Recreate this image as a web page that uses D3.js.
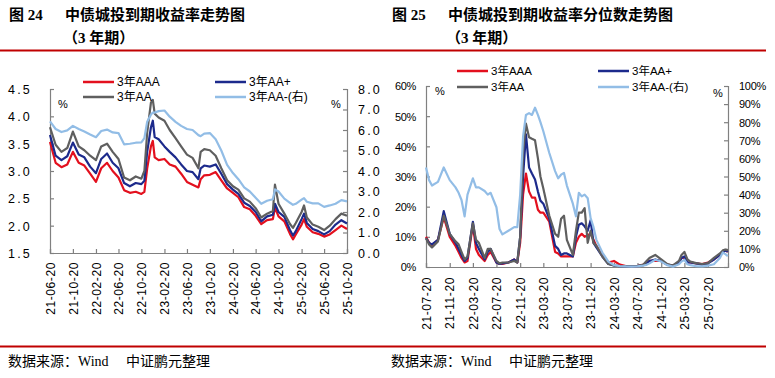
<!DOCTYPE html>
<html><head><meta charset="utf-8">
<script src="https://cdn.jsdelivr.net/npm/d3@7"></script>
<style>body{margin:0;background:#fff;} svg{display:block;}</style>
</head><body>
<svg id="c" width="775" height="378"></svg>
<script>
// ---------- Chart 24 data (yield, %) ----------
const datesL = ["2021-06-20","2021-07-20","2021-08-20","2021-09-20","2021-10-20","2021-11-20","2021-12-20","2022-01-20","2022-02-20","2022-03-20","2022-04-20","2022-05-20","2022-06-20","2022-07-20","2022-08-20","2022-09-20","2022-10-20","2022-11-05","2022-11-20","2022-12-10","2022-12-20","2022-12-30","2023-01-20","2023-02-20","2023-03-20","2023-04-20","2023-05-20","2023-06-20","2023-07-20","2023-08-20","2023-09-01","2023-09-20","2023-10-20","2023-11-20","2023-12-20","2024-01-20","2024-02-20","2024-03-20","2024-04-20","2024-05-20","2024-06-20","2024-07-20","2024-08-20","2024-09-20","2024-10-01","2024-10-20","2024-11-20","2024-12-20","2025-01-05","2025-01-20","2025-02-20","2025-03-05","2025-03-20","2025-04-20","2025-05-20","2025-06-20","2025-07-20","2025-08-20","2025-09-20","2025-10-20"];
const aaaL = [3.53,3.15,3.07,3.12,3.35,3.15,3.10,2.95,2.80,3.05,3.15,3.00,2.88,2.65,2.60,2.62,2.58,2.62,3.05,3.45,3.55,3.25,3.20,3.22,3.12,3.08,2.95,2.80,2.75,2.70,2.85,2.92,2.93,2.98,2.83,2.68,2.60,2.52,2.34,2.30,2.18,2.03,2.10,2.12,2.33,2.17,2.08,1.85,1.75,1.84,2.02,2.12,1.98,1.88,1.85,1.80,1.84,1.92,2.00,1.94];
const aapL = [3.66,3.28,3.20,3.27,3.52,3.30,3.25,3.08,2.96,3.22,3.32,3.15,3.05,2.78,2.72,2.78,2.76,2.82,3.35,3.80,3.92,3.62,3.58,3.45,3.35,3.25,3.12,3.00,2.98,2.85,3.05,3.10,3.08,3.12,2.95,2.76,2.66,2.58,2.42,2.36,2.25,2.08,2.17,2.20,2.40,2.25,2.16,1.92,1.82,1.90,2.12,2.22,2.05,1.94,1.90,1.84,1.90,2.02,2.10,2.04];
const aaL  = [3.80,3.48,3.35,3.42,3.72,3.45,3.38,3.28,3.20,3.45,3.50,3.35,3.22,2.88,2.83,2.90,2.86,3.00,3.70,4.25,4.30,4.05,3.98,3.92,3.75,3.60,3.45,3.30,3.24,3.05,3.35,3.40,3.38,3.28,3.05,2.83,2.72,2.66,2.50,2.44,2.32,2.15,2.22,2.27,2.75,2.40,2.22,2.03,1.96,2.05,2.25,2.37,2.15,2.02,1.98,1.92,2.00,2.12,2.22,2.18];
const aamL = [6.42,6.05,5.90,5.98,6.20,6.05,5.93,5.78,5.65,5.95,6.02,5.88,5.85,5.30,5.33,5.38,5.40,5.60,6.40,6.75,6.85,6.85,6.92,6.95,6.65,6.40,6.20,6.05,6.00,5.75,5.70,5.82,5.85,5.55,5.00,4.30,3.90,3.60,3.20,3.00,2.70,2.40,2.55,2.62,3.10,3.00,2.65,2.45,2.35,2.40,2.60,2.68,2.50,2.42,2.42,2.25,2.32,2.40,2.58,2.52];
const leftTicksL = ["4.5","4.0","3.5","3.0","2.5","2.0","1.5"];
const rightTicksL = ["8.0","7.0","6.0","5.0","4.0","3.0","2.0","1.0","0.0"];
const xTicksL = ["21-06-20","21-10-20","22-02-20","22-06-20","22-10-20","23-02-20","23-06-20","23-10-20","24-02-20","24-06-20","24-10-20","25-02-20","25-06-20","25-10-20"];

// ---------- Chart 25 data (percentile, %) ----------
const datesR = ["2021-07-20","2021-08-05","2021-08-20","2021-09-20","2021-10-20","2021-11-20","2021-12-20","2022-01-05","2022-01-20","2022-02-05","2022-02-20","2022-03-20","2022-04-05","2022-04-20","2022-05-20","2022-06-05","2022-06-20","2022-07-20","2022-08-05","2022-08-20","2022-09-20","2022-10-20","2022-11-05","2022-11-20","2022-12-05","2022-12-20","2023-01-05","2023-01-20","2023-02-05","2023-02-20","2023-03-05","2023-03-20","2023-04-20","2023-05-20","2023-06-05","2023-06-20","2023-07-05","2023-07-20","2023-08-20","2023-09-05","2023-09-20","2023-10-05","2023-10-20","2023-11-05","2023-11-20","2023-12-05","2023-12-20","2024-01-20","2024-02-20","2024-03-20","2024-04-20","2024-05-20","2024-06-20","2024-07-20","2024-08-20","2024-09-05","2024-09-20","2024-10-20","2024-11-20","2024-12-20","2025-01-20","2025-02-20","2025-03-05","2025-03-20","2025-04-05","2025-04-20","2025-05-20","2025-06-20","2025-07-20","2025-08-20","2025-09-20","2025-10-05","2025-10-20","2025-10-31"];
const aaaR = [10,8,7,9,16.5,10,7,5,3,1.5,2,14,6,4,2,4,5,1.5,1,1,1.5,2.5,1.5,8,24,31,25,23,23,19,18,18,15,5,4.5,3.5,3.5,3.5,3.5,8,10,11,10,10.5,11,9,7,4,1.5,2,0.8,0.3,0.2,0.3,0.8,1.5,2,2,2,0.8,0.5,1.5,3,3,1.5,1.5,1.2,1,1.5,2.5,4,5,5.5,5];
const aapR = [9.6,8,7.5,9,18.5,11,8,6,4,2,3,15,8,6,2.5,5,6,1.5,1,1.2,1.5,2.5,1.5,10,30,44,33,31,29,25,22,21,16,7,6,4,4.5,4.5,3.5,10,14,14.5,13.5,12,15.5,8,6.5,3.5,1,0.5,0.3,0.2,0.2,0.3,0.6,1.2,2,2.5,2,0.8,0.5,1.5,3,3.5,1.5,1.5,1.2,0.8,1.2,2.5,4,5,5.5,5];
const aaR  = [9.5,7.5,6.5,8.5,17,11,8.5,7.5,5,2.5,3.5,14.5,9,8,3,6,6,2,1.2,1.5,1.5,2,1.5,10,38,47.5,43,42.5,42,36,30,26,17,11,10,16,17,9,4,12,18,18,19.5,8,12,8,7,3.5,1,0.5,0.3,0.2,0.2,0.3,0.8,2,3,4,2.5,1,0.5,2,4,5,2.5,1.8,1.3,1,1.3,3,4.5,5.5,5.8,5.5];
const aamR = [55,48,45,47,55,48,44,41,37,28,40,49,44,44,42,40,41,33,21,18,20,22,22,40,72,84,85,84,88,84,80,75,63,53,49,51,52,45,35,28,41,39,40,38,27,22,15,8,3,1,0.5,0.3,0.2,0.3,0.8,1.2,2,4,3,1,0.2,1.5,3,4,1.5,1,0.5,0.3,0.8,1.5,5,8,7,6];
const leftTicksR = ["60%","50%","40%","30%","20%","10%","0%"];
const rightTicksR = ["100%","90%","80%","70%","60%","50%","40%","30%","20%","10%","0%"];
const xTicksR = ["21-07-20","21-11-20","22-03-20","22-07-20","22-11-20","23-03-20","23-07-20","23-11-20","24-03-20","24-07-20","24-11-20","25-03-20","25-07-20"];

const seriesNames = ["3年AAA","3年AA+","3年AA","3年AA-(右)"];
const colors = ["#e3101e","#1c2a8c","#5f5f5f","#92bde6"];

const svg = d3.select("#c");
const parse = d3.timeParse("%Y-%m-%d");
const parseTick = d3.timeParse("%y-%m-%d");
const SERIF_CJK = "'Liberation Serif','Noto Sans CJK SC',serif";
const SANS_CJK = "'Noto Sans CJK SC','Liberation Sans',sans-serif";
const LEG_FONT = "'Liberation Sans','Noto Sans CJK SC',sans-serif";
const AX = "#808080";

function drawPanel(o) {
  const g = svg.append("g").attr("transform", `translate(${o.dx},0)`);
  g.append("text").attr("x", 9).attr("y", 20).attr("font-family", SERIF_CJK).attr("font-weight", "bold").attr("font-size", 15).attr("fill", "#000").text(o.num);
  g.append("text").attr("x", 65).attr("y", 20).attr("font-family", SANS_CJK).attr("font-weight", "bold").attr("font-size", 15).attr("fill", "#000").text(o.title);
  g.append("text").attr("x", 63).attr("y", 43).attr("font-family", SERIF_CJK).attr("font-weight", "bold").attr("font-size", 15).attr("fill", "#000").text("（3 年期）");
  g.append("text").attr("x", 8).attr("y", 366).attr("font-family", SANS_CJK).attr("font-size", 14).text("数据来源：");
  g.append("text").attr("x", 78).attr("y", 366).attr("font-family", "'Liberation Serif',serif").attr("font-size", 14).text("Wind");
  g.append("text").attr("x", 126).attr("y", 366).attr("font-family", SANS_CJK).attr("font-size", 14).text("中证鹏元整理");
}

svg.append("line").attr("x1", 0).attr("x2", 766).attr("y1", 50.5).attr("y2", 50.5).attr("stroke", "#c00000").attr("stroke-width", 2);
svg.append("line").attr("x1", 0).attr("x2", 766).attr("y1", 346.5).attr("y2", 346.5).attr("stroke", "#c00000").attr("stroke-width", 2);

drawPanel({dx: 0, num: "图 24", title: "中债城投到期收益率走势图"});
drawPanel({dx: 383, num: "图 25", title: "中债城投到期收益率分位数走势图"});

function drawChart(c) {
  const g = svg.append("g");
  const x = d3.scaleTime().domain(c.xDomain.map(parse)).range([c.x0, c.x1]);
  const yL = d3.scaleLinear().domain(c.yLDomain).range([c.y1, c.y0]);
  const yR = d3.scaleLinear().domain(c.yRDomain).range([c.y1, c.y0]);
  const dates = c.dates.map(parse);

  const axisLeft = d3.axisLeft(yL).tickValues(c.leftTicks.map(Number.parseFloat)).tickSize(-4).tickFormat((d, i) => c.leftTicks[i]);
  const axisRight = d3.axisRight(yR).tickValues(c.rightTicks.map(Number.parseFloat)).tickSize(-4).tickFormat((d, i) => c.rightTicks[i]);
  const axisBottom = d3.axisBottom(x).tickValues(c.xTicks.map(parseTick)).tickSize(-4).tickFormat((d, i) => c.xTicks[i]);

  const gl = g.append("g").attr("transform", `translate(${c.x0},0)`).call(axisLeft);
  const gr = g.append("g").attr("transform", `translate(${c.x1},0)`).call(axisRight);
  const gb = g.append("g").attr("transform", `translate(0,${c.y1})`).call(axisBottom);
  [gl, gr, gb].forEach(a => {
    a.select(".domain").attr("stroke", AX).attr("stroke-width", 1.2);
    a.selectAll(".tick line").attr("stroke", AX).attr("stroke-width", 1.2);
    a.selectAll("text").attr("fill", "#000").attr("font-family", c.tickFont).attr("font-size", c.tickSize).attr("letter-spacing", c.tickSpacing);
  });
  gl.selectAll("text").attr("x", c.leftLabelX - c.x0).attr("text-anchor", "end").attr("dy", "0.35em");
  gr.selectAll("text").attr("x", c.rightLabelX - c.x1).attr("text-anchor", "start").attr("dy", "0.35em");
  gb.selectAll("text").attr("transform", "rotate(-90)").attr("text-anchor", "end")
    .attr("x", -(c.xLabelTop - c.y1)).attr("y", 0).attr("dy", "0.35em")
    .attr("font-family", "'Liberation Sans',sans-serif").attr("font-size", 12).attr("letter-spacing", 0.6);

  c.series.forEach((v, i) => {
    const ys = i === 3 ? yR : yL;
    const line = d3.line().x((d, k) => x(dates[k])).y(d => ys(d));
    g.append("path").datum(v).attr("d", line).attr("fill", "none").attr("stroke", colors[i])
      .attr("stroke-width", 2.2).attr("stroke-linejoin", "round");
  });

  g.append("text").attr("x", c.pctL[0]).attr("y", c.pctL[1]).attr("font-family", "'Liberation Sans',sans-serif").attr("font-size", 11).text("%");
  g.append("text").attr("x", c.pctR[0]).attr("y", c.pctR[1]).attr("font-family", "'Liberation Sans',sans-serif").attr("font-size", 11).text("%");

  seriesNames.forEach((n, i) => {
    const lx = c.legX[i % 2 === 0 ? 0 : 1];
    const ly = c.legY[i < 2 ? 0 : 1];
    g.append("line").attr("x1", lx).attr("x2", lx + 31).attr("y1", ly).attr("y2", ly).attr("stroke", colors[i]).attr("stroke-width", 2.5);
    g.append("text").attr("x", lx + 34).attr("y", ly + 4).attr("font-family", LEG_FONT).attr("font-size", c.legSize).attr("fill", "#000").text(n);
  });
}

drawChart({
  dates: datesL, series: [aaaL, aapL, aaL, aamL],
  xDomain: ["2021-06-20", "2025-10-20"], x0: 50, x1: 347, y0: 89, y1: 253,
  yLDomain: [1.5, 4.5], yRDomain: [0, 8],
  leftTicks: leftTicksL, rightTicks: rightTicksL, xTicks: xTicksL,
  tickFont: "'Liberation Sans',sans-serif", tickSize: 12.5, tickSpacing: 2.2,
  leftLabelX: 32, rightLabelX: 358, xLabelTop: 262,
  pctL: [58, 108], pctR: [331, 108],
  legX: [83, 215], legY: [82, 97], legSize: 12
});

drawChart({
  dates: datesR, series: [aaaR, aapR, aaR, aamR],
  xDomain: ["2021-07-20", "2025-11-01"], x0: 426, x1: 728, y0: 86, y1: 267,
  yLDomain: [0, 60], yRDomain: [0, 100],
  leftTicks: leftTicksR, rightTicks: rightTicksR, xTicks: xTicksR,
  tickFont: "'Liberation Sans',sans-serif", tickSize: 11, tickSpacing: -0.3,
  leftLabelX: 416, rightLabelX: 739, xLabelTop: 277,
  pctL: [435, 95], pctR: [713, 97],
  legX: [457, 598], legY: [71, 87], legSize: 11.5
});
</script>
</body></html>
